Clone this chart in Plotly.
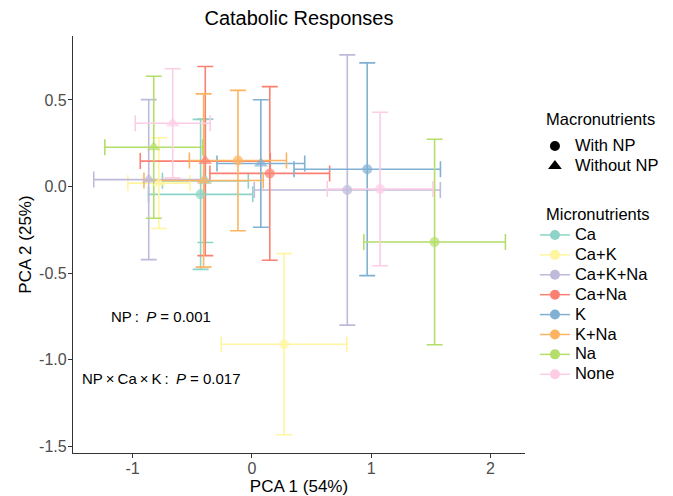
import plotly.graph_objects as go

micro = ["Ca", "Ca+K", "Ca+K+Na", "Ca+Na", "K", "K+Na", "Na", "None"]
colors = ["#8DD3C7", "#FFF5A0", "#BEBADA", "#FB8072", "#80B1D3", "#FDB462", "#B3DE69", "#FCCDE5"]

# With NP (circles)
with_x = [-0.43, 0.27, 0.80, 0.15, 0.967, -0.117, 1.532, 1.075]
with_y = [-0.045, -0.91, -0.02, 0.076, 0.10, 0.15, -0.32, -0.014]
with_xerr = [0.437, 0.526, 0.78, 0.502, 0.614, 0.407, 0.594, 0.443]
with_yerr = [0.433, 0.523, 0.78, 0.501, 0.614, 0.405, 0.593, 0.443]

# Without NP (triangles)
wo_x = [-0.39, -0.78, -0.865, -0.391, 0.075, -0.405, -0.823, -0.664]
wo_y = [0.033, 0.02, 0.04, 0.147, 0.133, 0.035, 0.227, 0.365]
wo_xerr = [0.36, 0.26, 0.461, 0.545, 0.368, 0.50, 0.41, 0.314]
wo_yerr = [0.356, 0.262, 0.462, 0.546, 0.368, 0.50, 0.41, 0.315]

macro = ["With NP", "Without NP"]
x_ticks = [-1, 0, 1, 2]
x_ticklabels = ["-1", "0", "1", "2"]
y_ticks = [-1.5, -1.0, -0.5, 0.0, 0.5]
y_ticklabels = ["-1.5", "-1.0", "-0.5", "0.0", "0.5"]

FONT = "Liberation Sans, Arial, sans-serif"
LEG_TXT = 16.5


def big(s):
    return '<span style="font-size:%gpx">%s</span>' % (LEG_TXT, s)


fig = go.Figure()

# error bars first
for i, m in enumerate(micro):
    fig.add_trace(go.Scatter(
        x=[with_x[i], wo_x[i]], y=[with_y[i], wo_y[i]], mode="markers",
        marker=dict(size=1, opacity=0, color=colors[i]),
        error_x=dict(type="data", array=[with_xerr[i], wo_xerr[i]], color=colors[i], thickness=1.6, width=8),
        error_y=dict(type="data", array=[with_yerr[i], wo_yerr[i]], color=colors[i], thickness=1.6, width=8),
        showlegend=False, hoverinfo="skip"))

# points
for i, m in enumerate(micro):
    fig.add_trace(go.Scatter(
        x=[with_x[i], wo_x[i]], y=[with_y[i], wo_y[i]], mode="markers",
        marker=dict(size=[10, 12], symbol=["circle", "triangle-up"], color=colors[i], line=dict(width=0)),
        showlegend=False, name=m))

# legend: macronutrients
for sym, name in zip(["circle", "triangle-up"], macro):
    fig.add_trace(go.Scatter(
        x=[None], y=[None], mode="markers", name=big(name),
        marker=dict(size=10 if sym == "circle" else 12, symbol=sym, color="black"),
        legend="legend"))

# legend: micronutrients
for i, m in enumerate(micro):
    fig.add_trace(go.Scatter(
        x=[None], y=[None], mode="lines+markers", name=big(m),
        marker=dict(size=10, symbol="circle", color=colors[i]),
        line=dict(color=colors[i], width=1.5),
        legend="legend2"))

axis_common = dict(
    showline=True, linecolor="#333333", linewidth=1.2, mirror=False,
    ticks="outside", ticklen=4, tickcolor="#333333", tickwidth=1.1,
    showgrid=False, zeroline=False, automargin=False,
    tickfont=dict(family=FONT, size=16, color="#4D4D4D"),
)

fig.update_layout(
    width=673, height=496,
    margin=dict(l=73, r=148, t=36, b=43, autoexpand=False),
    paper_bgcolor="white", plot_bgcolor="white",
    font=dict(family=FONT, color="black"),
    title=dict(text="Catabolic Responses", x=0.4443, xanchor="center", y=0.964, yanchor="middle",
               xref="container", yref="container", font=dict(family=FONT, size=20, color="black")),
    xaxis=dict(range=[-1.5, 2.29], tickvals=x_ticks, ticktext=x_ticklabels, ticklabelstandoff=-3,
               title=dict(text="PCA 1 (54%)", font=dict(family=FONT, size=17, color="black"), standoff=4),
               **axis_common),
    yaxis=dict(range=[-1.538, 0.869], tickvals=y_ticks, ticktext=y_ticklabels, ticklabelstandoff=-2,
               title=dict(text="PCA 2 (25%)", font=dict(family=FONT, size=17, color="black"), standoff=3),
               **axis_common),
    legend=dict(x=1.022, xanchor="left", y=0.772, yanchor="top",
                font=dict(family=FONT, size=13), bgcolor="rgba(0,0,0,0)", tracegroupgap=0),
    legend2=dict(x=1.022, xanchor="left", y=0.5587, yanchor="top",
                 font=dict(family=FONT, size=13), bgcolor="rgba(0,0,0,0)", tracegroupgap=0),
    annotations=[
        dict(x=-0.76, y=-0.75, xref="x", yref="y", text="NP\u2009:\u2009 <i>P</i> = 0.001", showarrow=False,
             font=dict(family=FONT, size=15, color="black")),
        dict(x=-0.755, y=-1.106, xref="x", yref="y",
             text="NP\u2009×\u2009Ca\u2009×\u2009K\u2009:\u2009 <i>P</i> = 0.017", showarrow=False,
             font=dict(family=FONT, size=15, color="black")),
        dict(x=1.042, y=0.8018, xref="paper", yref="paper", xanchor="left", yanchor="middle",
             text="Macronutrients", showarrow=False, font=dict(family=FONT, size=LEG_TXT, color="black")),
        dict(x=1.042, y=0.5735, xref="paper", yref="paper", xanchor="left", yanchor="middle",
             text="Micronutrients", showarrow=False, font=dict(family=FONT, size=LEG_TXT, color="black")),
    ],
)

fig.write_html("out.html")
